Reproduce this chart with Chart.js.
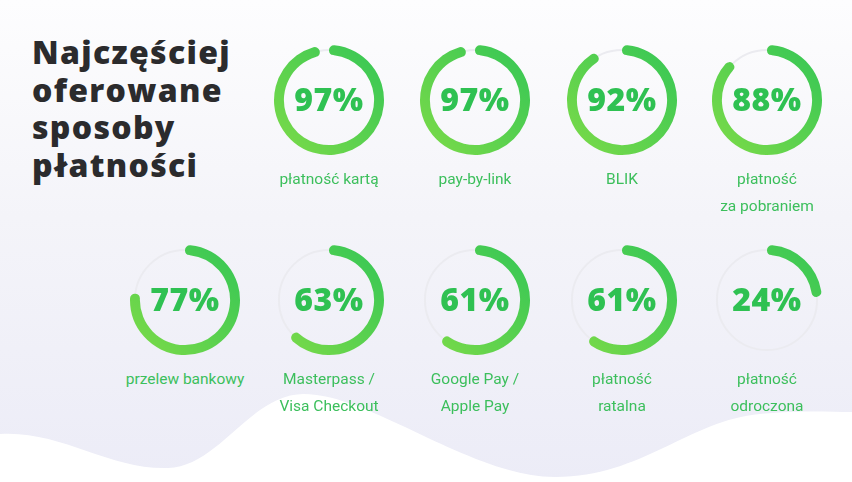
<!DOCTYPE html>
<html lang="pl">
<head>
<meta charset="utf-8">
<script src="https://cdn.jsdelivr.net/npm/chart.js@4.4.1/dist/chart.umd.min.js"></script>
<style>
  body {
    margin: 0;
    width: 852px;
    height: 482px;
    overflow: hidden;
    position: relative;
    font-family: Roboto, "Noto Sans", sans-serif;
    background: linear-gradient(180deg, #fdfdfe 0%, #f4f4f9 45%, #ececf7 100%);
  }
  .wave { position: absolute; left: 0; top: 0; }
  h1 {
    position: absolute;
    left: 32px;
    top: 33px;
    margin: 0;
    font-family: "Open Sans", sans-serif;
    font-weight: 800;
    font-size: 32px;
    line-height: 37.5px;
    color: #2b2b2d;
    letter-spacing: 1.3px;
  }
  .item { position: absolute; width: 150px; }
  .item canvas { display: block; margin: 0 auto; }
  .pct {
    position: absolute;
    left: 0; right: 0;
    top: 37px;
    text-align: center;
    font-family: "Open Sans", sans-serif;
    font-weight: 800;
    font-size: 32px;
    line-height: 36px;
    color: #2fc152;
    letter-spacing: 0.5px;
  }
  .lbl {
    margin-top: 10px;
    text-align: center;
    font-size: 15.5px;
    line-height: 27px;
    color: #3cbf5c;
  }
</style>
</head>
<body>
<svg class="wave" width="852" height="482">
  <path d="M0,434 C60,430 110,470 168,468 C220,466 250,394 304,394 C370,394 470,476 554,477 C640,478 690,420 760,414 C800,410 830,412 852,412 L852,482 L0,482 Z" fill="#ffffff"/>
</svg>
<h1>Najczęściej<br>oferowane<br>sposoby<br>płatności</h1>
<div id="grid"></div>
<script>
const categories = [
  ['płatność kartą'],
  ['pay-by-link'],
  ['BLIK'],
  ['płatność', 'za pobraniem'],
  ['przelew bankowy'],
  ['Masterpass /', 'Visa Checkout'],
  ['Google Pay /', 'Apple Pay'],
  ['płatność', 'ratalna'],
  ['płatność', 'odroczona']
];
const shares = [97, 97, 92, 88, 77, 63, 61, 61, 24];

const colX = [329, 475, 622, 767];
const rowY = [100, 300];
const size = 112;

// thin grey track behind each ring, taken from the arc geometry
const trackPlugin = {
  id: 'track',
  beforeDatasetsDraw(chart) {
    const arc = chart.getDatasetMeta(0).data[0];
    if (!arc) return;
    const { x, y, innerRadius, outerRadius } = arc.getProps(['x', 'y', 'innerRadius', 'outerRadius'], true);
    const c = chart.ctx;
    c.save();
    c.beginPath();
    c.arc(x, y, (innerRadius + outerRadius) / 2, 0, Math.PI * 2);
    c.strokeStyle = '#ebebf0';
    c.lineWidth = 2;
    c.stroke();
    c.restore();
  }
};

const grid = document.getElementById('grid');

shares.forEach((v, i) => {
  const cx = i < 4 ? colX[i] : (i === 4 ? 185 : colX[i - 5]);
  const cy = i < 4 ? rowY[0] : rowY[1];

  const item = document.createElement('div');
  item.className = 'item';
  item.style.left = (cx - 75) + 'px';
  item.style.top = (cy - size / 2) + 'px';

  const canvas = document.createElement('canvas');
  canvas.width = size;
  canvas.height = size;
  canvas.style.width = size + 'px';
  canvas.style.height = size + 'px';
  item.appendChild(canvas);

  const pct = document.createElement('div');
  pct.className = 'pct';
  pct.textContent = v + '%';
  item.appendChild(pct);

  const lbl = document.createElement('div');
  lbl.className = 'lbl';
  lbl.innerHTML = categories[i].join('<br>');
  item.appendChild(lbl);

  grid.appendChild(item);

  new Chart(canvas, {
    type: 'doughnut',
    data: {
      labels: ['tak', 'reszta'],
      datasets: [{
        data: [v, 100 - v],
        backgroundColor: ctx => {
          if (ctx.dataIndex === 1) return 'rgba(0,0,0,0)';
          const area = ctx.chart.chartArea;
          if (!area) return '#4ccb52';
          const g = ctx.chart.ctx.createLinearGradient(area.left, area.bottom, area.right, area.top);
          g.addColorStop(0, '#7ddb48');
          g.addColorStop(1, '#34c656');
          return g;
        },
        borderWidth: 0,
        borderRadius: ctx => ctx.dataIndex === 0 ? 6 : 0
      }]
    },
    options: {
      responsive: false,
      animation: false,
      cutout: '82%',
      layout: { padding: 1 },
      plugins: {
        legend: { display: false },
        tooltip: { enabled: false }
      }
    },
    plugins: [trackPlugin]
  });
});
</script>
</body>
</html>
